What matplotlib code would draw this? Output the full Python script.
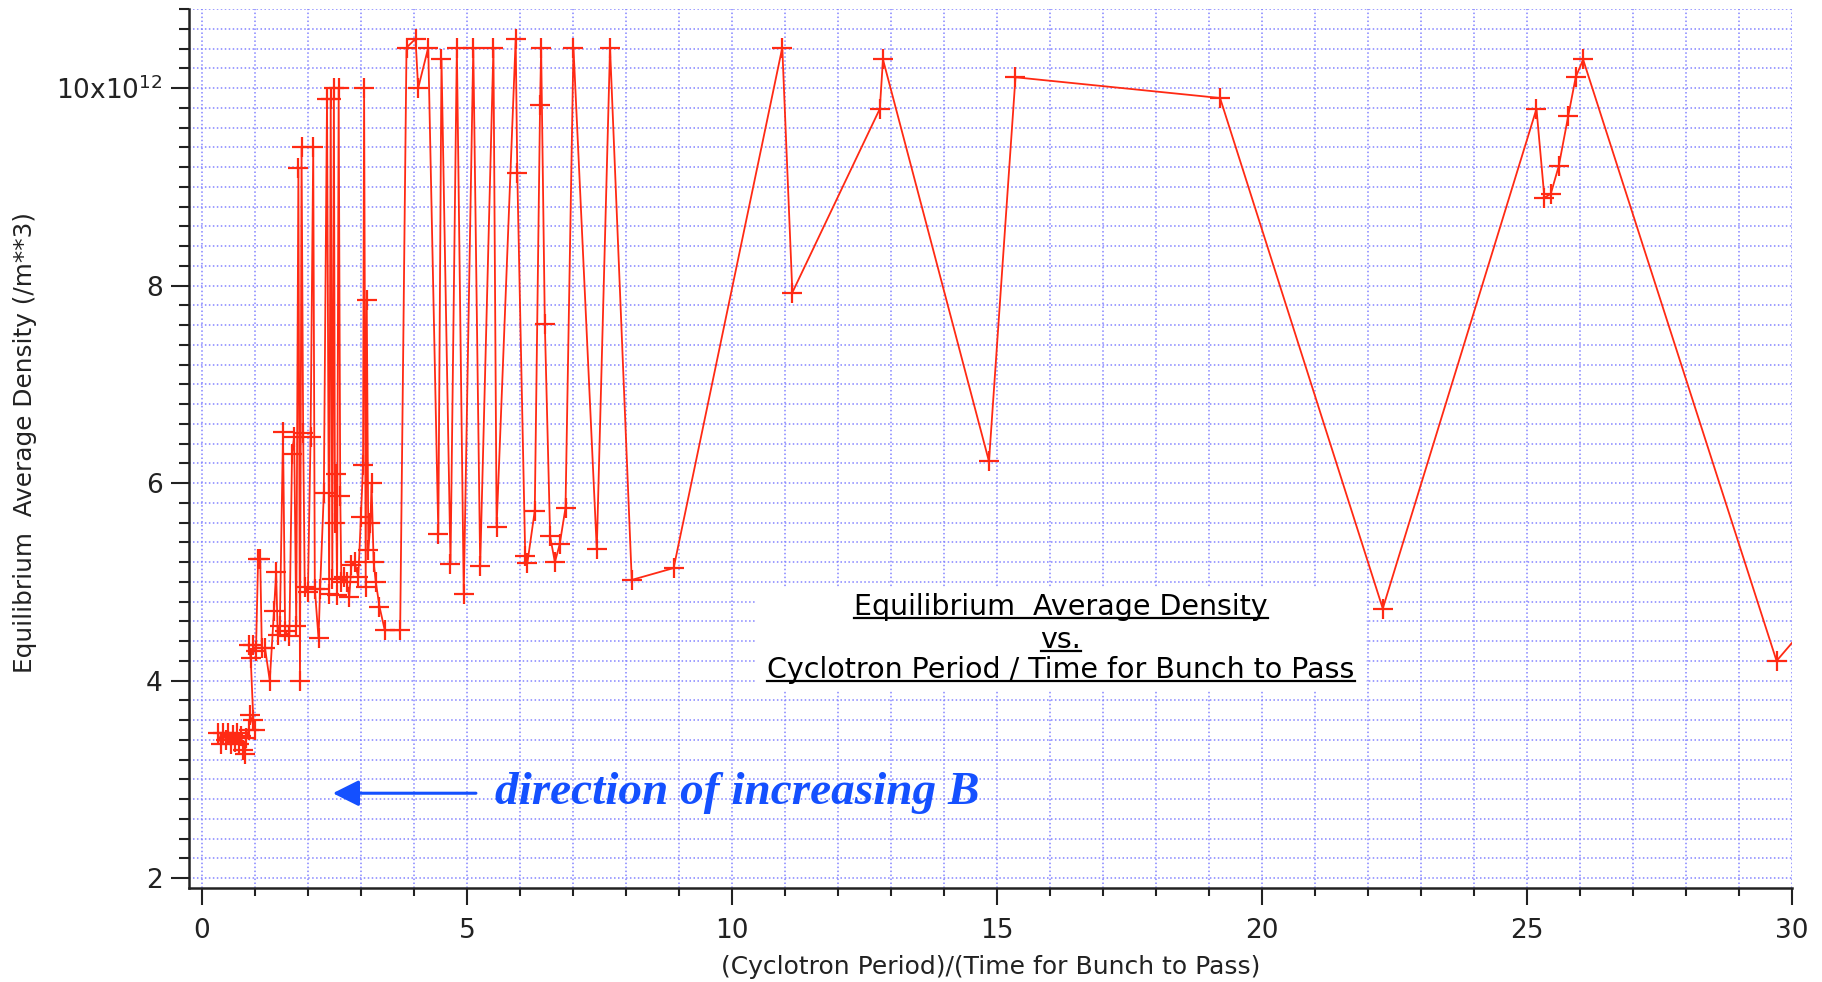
import matplotlib
matplotlib.use('Agg')
import matplotlib.pyplot as plt
from matplotlib.ticker import MultipleLocator, FixedLocator, FixedFormatter
from matplotlib.lines import Line2D
from matplotlib.patches import Rectangle

# ---- data: (Cyclotron Period)/(Time for Bunch to Pass) vs density (units of 1e12 /m^3)
period_ratio = [
    0.30, 0.36, 0.40, 0.45, 0.50, 0.54, 0.58, 0.62, 0.66, 0.70, 0.74, 0.78, 0.81, 0.84,
    0.88, 0.91, 1.00, 0.97,
    0.92, 0.88, 0.96, 1.02, 1.06, 1.10, 1.13, 1.19, 1.28, 1.36, 1.40, 1.43, 1.47, 1.53,
    1.57, 1.65, 1.70, 1.74, 1.78, 1.82, 1.85, 1.88, 1.91, 1.94, 2.00, 2.05, 2.10, 2.13,
    2.20, 2.23, 2.30, 2.36, 2.40, 2.43, 2.46, 2.49, 2.51, 2.53, 2.55, 2.58, 2.61, 2.63,
    2.68, 2.73, 2.78, 2.82, 2.88, 2.95, 3.00, 3.04, 3.06, 3.09, 3.11, 3.14, 3.18, 3.20,
    3.24, 3.28, 3.35, 3.45, 3.74,
    3.86, 4.03, 4.08, 4.27, 4.46, 4.52, 4.69, 4.81, 4.94, 5.12, 5.25, 5.50, 5.56, 5.92,
    5.95, 6.10, 6.14, 6.28, 6.38, 6.40, 6.47, 6.57, 6.66, 6.75, 6.86, 7.01, 7.45, 7.70,
    8.11, 8.90,
    10.95, 11.14, 12.79, 12.85, 14.85, 15.35, 19.21, 22.28,
    25.18, 25.33, 25.45, 25.60, 25.78, 25.92, 26.06, 29.71, 30.30,
]
density_e12 = [
    3.47, 3.36, 3.47, 3.40, 3.47, 3.36, 3.45, 3.38, 3.47, 3.36, 3.44, 3.30, 3.26, 3.42,
    3.50, 3.65, 3.50, 3.60,
    4.23, 4.36, 4.36, 4.30, 5.23, 5.23, 4.33, 4.33, 4.00, 4.71, 5.10, 4.46, 4.55, 6.52,
    4.50, 4.45, 6.30, 6.47, 4.55, 9.19, 4.00, 9.40, 6.51, 4.95, 4.90, 6.47, 9.40, 4.93,
    4.43, 4.93, 5.90, 9.89, 4.88, 9.89, 5.03, 10.00, 5.60, 6.09, 4.87, 10.00, 5.87, 5.00,
    5.05, 5.00, 4.85, 5.17, 5.20, 5.05, 5.66, 6.18, 10.00, 4.95, 7.85, 5.32, 5.60, 6.00,
    5.20, 5.00, 4.75, 4.51, 4.51,
    10.41, 10.50, 10.00, 10.41, 5.49, 10.29, 5.18, 10.41, 4.88, 10.41, 5.16, 10.41, 5.56, 10.50,
    9.14, 5.26, 5.19, 5.72, 9.83, 10.41, 7.61, 5.46, 5.20, 5.38, 5.75, 10.41, 5.33, 10.41,
    5.02, 5.14,
    10.41, 7.93, 9.79, 10.29, 6.22, 10.11, 9.90, 4.73,
    9.79, 8.89, 8.93, 9.21, 9.72, 10.11, 10.29, 4.20, 4.57,
]

x_ticks = [0, 5, 10, 15, 20, 25, 30]
x_tick_labels = ['0', '5', '10', '15', '20', '25', '30']
y_ticks = [2, 4, 6, 8, 10]
y_tick_labels = ['2', '4', '6', '8', r'10x10$^{12}$']

x_label = '(Cyclotron Period)/(Time for Bunch to Pass)'
y_label = 'Equilibrium  Average Density (/m**3)'
title_lines = ['Equilibrium  Average Density', 'vs.', 'Cyclotron Period / Time for Bunch to Pass']
arrow_text = 'direction of increasing B'

RED = '#ff2a14'
GRID = '#8484ff'
BLUE = '#1450ff'

plt.rcParams['font.family'] = ['DejaVu Sans']
plt.rcParams['mathtext.fontset'] = 'dejavusans'

fig = plt.figure(figsize=(18.22, 9.82), dpi=100)
ax = fig.add_axes([0.1037, 0.0957, 0.9835 - 0.1037, 0.9908 - 0.0957])

ax.set_xlim(-0.245, 30)
ax.set_ylim(1.9, 10.801)

ax.xaxis.set_major_locator(FixedLocator(x_ticks))
ax.xaxis.set_major_formatter(FixedFormatter(x_tick_labels))
ax.xaxis.set_minor_locator(MultipleLocator(1))
ax.yaxis.set_major_locator(FixedLocator(y_ticks))
ax.yaxis.set_major_formatter(FixedFormatter(y_tick_labels))
ax.yaxis.set_minor_locator(MultipleLocator(0.2))

ax.grid(which='both', color=GRID, linestyle=(0, (1, 1.6)), linewidth=1.1, zorder=0)
ax.set_axisbelow(True)

for s in ['top', 'right']:
    ax.spines[s].set_visible(False)
for s in ['left', 'bottom']:
    ax.spines[s].set_linewidth(1.8)
    ax.spines[s].set_color('#222222')

ax.tick_params(axis='x', which='major', direction='out', length=12.5, width=1.5, pad=9,
               labelsize=19, colors='#222222')
ax.tick_params(axis='x', which='minor', direction='out', length=6, width=1.5, colors='#222222')
ax.tick_params(axis='y', which='major', direction='out', length=13, width=1.5, pad=6,
               labelsize=19, colors='#222222')
ax.tick_params(axis='y', which='minor', direction='out', length=7, width=1.5, colors='#222222')

ax.plot(period_ratio, density_e12, color=RED, linewidth=1.3, marker='+',
        markersize=15, markeredgewidth=1.6, zorder=3)

ax.set_xlabel(x_label, fontsize=18, color='#222222')
ax.xaxis.label.set_va('center')
ax.xaxis.set_label_coords(0.5, -0.0899)
ax.set_ylabel(y_label, fontsize=17.8, color='#222222')
ax.yaxis.label.set_va('center')
ax.yaxis.set_label_coords(-0.1023, 0.507)

# arrow and note
ax.annotate('', xy=(2.47, 2.86), xytext=(5.17, 2.86),
            arrowprops=dict(arrowstyle='-|>', color=BLUE, lw=2.2, mutation_scale=40,
                            shrinkA=0, shrinkB=0))
ax.text(5.53, 2.86, arrow_text, color=BLUE, fontsize=34, fontweight='bold',
        fontstyle='italic', family=['Liberation Serif', 'DejaVu Serif'], ha='left', va='center')

# title box
fig.add_artist(Rectangle((757 / 1822, 1 - 690 / 982), (1366 - 757) / 1822, 102 / 982,
                         transform=fig.transFigure, facecolor='white', edgecolor='none',
                         zorder=2))
cx = 1061 / 1822
ys = [1 - 607 / 982, 1 - 640 / 982, 1 - 670 / 982]
texts = []
for line, yy in zip(title_lines, ys):
    t = fig.text(cx, yy, line, fontsize=20.5, ha='center', va='center', color='black', zorder=4)
    texts.append(t)

fig.canvas.draw()
r = fig.canvas.get_renderer()
W, H = fig.get_size_inches() * fig.dpi
for t in texts:
    bb = t.get_window_extent(renderer=r)
    yline = (bb.y0 + 3) / H
    fig.add_artist(Line2D([bb.x0 / W, bb.x1 / W], [yline, yline], transform=fig.transFigure,
                          color='black', linewidth=1.6, zorder=4))

fig.savefig('out.png', dpi=100)
